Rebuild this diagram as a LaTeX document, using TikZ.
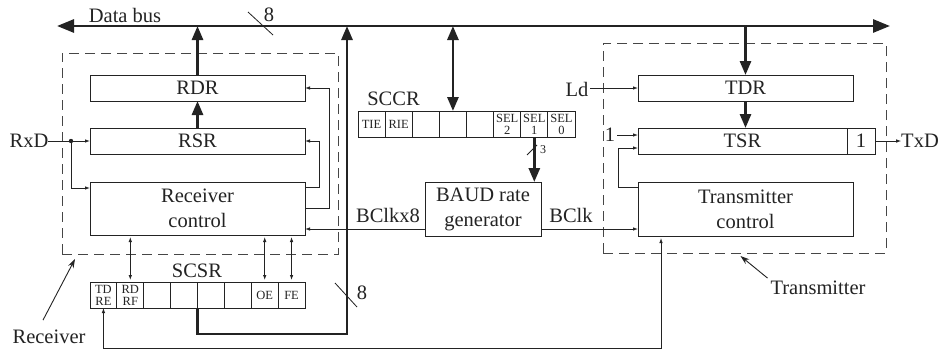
\documentclass[tikz,border=0pt]{standalone}
\usepackage{fontspec}
\setmainfont{Liberation Serif}
\usepackage{tikz}
\usetikzlibrary{arrows.meta}
\definecolor{inkc}{RGB}{35,35,35}
\definecolor{dashc}{RGB}{70,70,70}

\begin{document}
\begin{tikzpicture}[x=1pt,y=-1pt,
  ink/.style={draw=inkc},
  blk/.style={ink,line width=0.9pt,fill=white,inner sep=0pt,outer sep=0pt,align=center,text=inkc,font=\fontsize{20.5}{25}\selectfont},
  regcell/.style={ink,line width=0.9pt,inner sep=0pt,outer sep=0pt,minimum height=26pt,align=center,text=inkc,font=\fontsize{12.5}{12}\selectfont},
  lbl/.style={inner sep=0pt,outer sep=0pt,text=inkc,font=\fontsize{20.5}{25}\selectfont},
  grp/.style={draw=dashc,line width=0.9pt,dash pattern=on 10pt off 6pt,inner sep=0pt,outer sep=0pt},
  sig/.style={ink,line width=0.8pt,-{Latex[length=5pt,width=3.5pt]}},
  dsig/.style={ink,line width=0.8pt,{Latex[length=5pt,width=3.5pt]}-{Latex[length=5pt,width=3.5pt]}},
  bus/.style={ink,line width=2.8pt,-{Triangle[length=14pt,width=11pt]}},
  widthmark/.style={ink,line width=0.8pt}]
\path[use as bounding box,fill=white] (0,0) rectangle (941,351);
\node[grp,minimum width=276pt,minimum height=201pt] (recvbox) at (200,153.5) {};
\node[grp,minimum width=283pt,minimum height=210pt] (xmitbox) at (744.5,148) {};
\node[blk,minimum width=215pt,minimum height=26pt] (rdr) at (197.5,88) {RDR};
\node[blk,minimum width=215pt,minimum height=26pt] (rsr) at (197.5,141) {RSR};
\node[blk,minimum width=215pt,minimum height=53pt] (rctl) at (197.5,208.5) {Receiver\\control};
\node[blk,minimum width=215pt,minimum height=26pt] (tdr) at (745.5,88) {TDR};
\node[blk,minimum width=209pt,minimum height=26pt] (tsr) at (742.5,141) {TSR};
\node[blk,minimum width=28pt,minimum height=26pt] (tsrone) at (861,141) {1};
\node[blk,minimum width=215pt,minimum height=54pt] (tctl) at (745.5,209) {Transmitter\\control};
\node[blk,minimum width=116pt,minimum height=54pt] (baud) at (483,209) {BAUD rate\\generator};
\foreach \t [count=\i] in {{TD\\RE},{RD\\RF},{},{},{},{},OE,FE}
  \node[regcell,minimum width=26.875pt] (scsr\i) at ({90+26.875*(\i-0.5)},295) {\t};
\foreach \t [count=\i] in {TIE,RIE,{},{},{},{SEL\\2},{SEL\\1},{SEL\\0}}
  \node[regcell,minimum width=27.125pt] (sccr\i) at ({358+27.125*(\i-0.5)},124) {\t};
\node[lbl] (scsrlbl) at (197,271) {SCSR};
\node[lbl] (sccrlbl) at (393.5,99) {SCCR};
\node[lbl] (databus) at (125,15) {Data bus};
\node[lbl] (rxd) at (29,141) {RxD};
\node[lbl] (txd) at (920,141) {TxD};
\node[lbl] (ld) at (577,89) {Ld};
\node[lbl] (onein) at (610,135) {1};
\node[lbl] (bclkx8) at (388,215) {BClkx8};
\node[lbl] (bclk) at (571,215) {BClk};
\node[lbl] (recvlbl) at (49,337) {Receiver};
\node[lbl] (xmitlbl) at (818,288) {Transmitter};
\node[lbl] (buswd) at (269,15) {8};
\node[lbl] (rbuswd) at (362,293) {8};
\node[lbl,font=\fontsize{12}{12}\selectfont] (selwd) at (543,150) {3};
\coordinate (busleft) at (57,26);
\coordinate (busright) at (890,26);
\coordinate (busjoin) at (347,26);
\coordinate (buscorner) at (347,334);
\coordinate (rxdot) at (71,141);
\draw[bus,{Triangle[length=17pt,width=13pt]}-{Triangle[length=17pt,width=13pt]}] (busleft) -- (busright);
\draw[bus] (rdr.north) -- (rdr.north |- busleft);
\draw[bus] (rsr.north) -- (rdr.south);
\draw[bus] (tdr.north |- busright) -- (tdr.north);
\draw[bus] (tdr.south) -- (tdr.south |- tsr.north);
\draw[bus,{Triangle[length=14pt,width=11pt]}-{Triangle[length=14pt,width=11pt]}] (sccr4.north |- busleft) -- (sccr4.north);
\draw[bus] (scsr5.south west) |- (buscorner) -- (busjoin);
\draw[bus] (sccr7.south) -- (sccr7.south |- baud.north);
\draw[widthmark] (248,12) -- (273,35);
\draw[widthmark] (335,283) -- (357,307);
\draw[widthmark] (527,155) -- (537,145);
\draw[sig] (rxd.east) -- (rsr.west);
\fill[inkc] (rxdot) circle (2.2pt);
\draw[sig] (rxdot) |- ([yshift=20.5pt]rctl.west);
\draw[sig] ([yshift=21.5pt]rctl.east) -- ++(14,0) |- (rsr.east);
\draw[sig] (rctl.east) -- ++(24,0) |- (rdr.east);
\draw[sig] ([yshift=-20pt]baud.west) -- ([yshift=-20pt]baud.west -| rctl.east);
\draw[sig] ([yshift=-20pt]baud.east) -- ([yshift=-20pt]baud.east -| tctl.west);
\foreach \i in {2,7,8}
  \draw[dsig] ([yshift=-2pt]rctl.south -| scsr\i.north) -- ([yshift=2pt]scsr\i.north);
\draw[dsig] (scsr1.south) -- ++(0,40) -| ([xshift=-84.5pt,yshift=-2pt]tctl.south);
\draw[sig] ([yshift=22pt]tctl.west) -- ++(-20,0) |- ([yshift=-7pt]tsr.west);
\draw[sig] ([xshift=2pt]onein.east) -- (onein.east -| tsr.west);
\draw[sig] ([xshift=2pt]tdr.west -| ld.east) -- (tdr.west);
\draw[sig] (tsrone.east) -- (txd.west);
\draw[ink,line width=0.9pt,-{Stealth[length=9pt,width=6pt]}] ([xshift=-6pt,yshift=10pt]recvlbl.north) -- ([xshift=13pt,yshift=-5pt]recvbox.south west);
\draw[ink,line width=0.9pt,-{Stealth[length=9pt,width=6pt]}] ([xshift=-3pt,yshift=3pt]xmitlbl.north west) -- ([xshift=-4pt,yshift=-3pt]xmitbox.south);
\end{tikzpicture}
\end{document}
